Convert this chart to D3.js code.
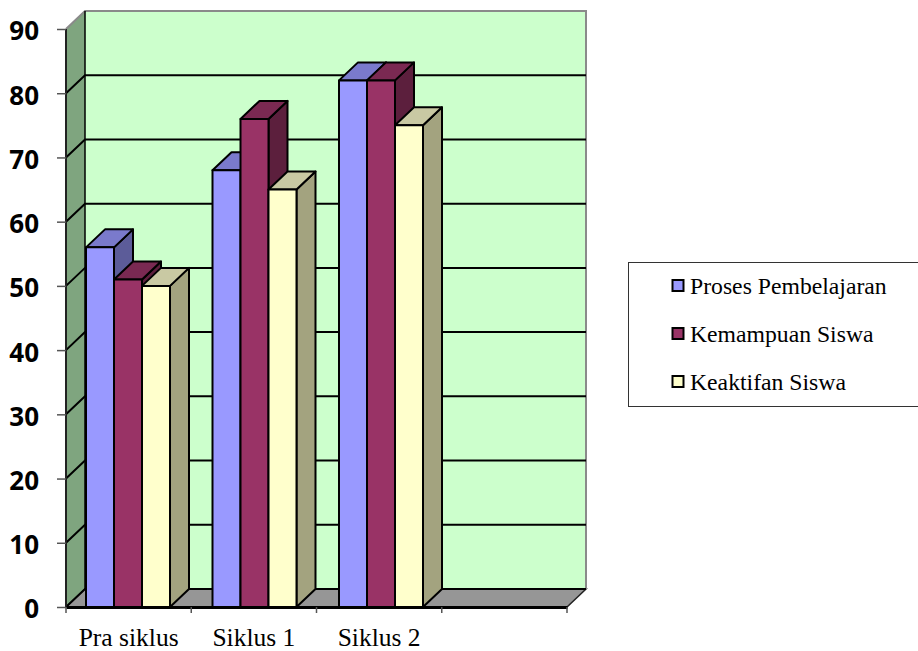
<!DOCTYPE html>
<html>
<head>
<meta charset="utf-8">
<script src="https://cdn.jsdelivr.net/npm/d3@7"></script>
<style>
	html, body { margin: 0; padding: 0; background: #fff; }
	svg { display: block; }
	.y_axis text { font-family: "Open Sans", sans-serif; font-weight: 700; font-size: 26px; fill: #000; }
	.x_axis text { font-family: "Liberation Serif", serif; font-size: 25.5px; fill: #000; }
	.legend text { font-family: "Liberation Serif", serif; font-size: 23.7px; fill: #000; }
</style>
</head>
<body>
<div class="c-svg"></div>
<script>
//DATA
//-------------------------------------------------------------------------

const categories = ["Pra siklus", "Siklus 1", "Siklus 2", ""];
const seriesNames = ["Proses Pembelajaran", "Kemampuan Siswa", "Keaktifan Siswa"];
const prosesPembelajaran = [56, 68, 82];
const kemampuanSiswa = [51, 76, 82];
const keaktifanSiswa = [50, 65, 75];
const yTicks = [0, 10, 20, 30, 40, 50, 60, 70, 80, 90];

const seriesValues = [prosesPembelajaran, kemampuanSiswa, keaktifanSiswa];

//face colors : front, top, side
const seriesColors = [
	["#9999ff", "#7a7acc", "#5c5c99"],
	["#993366", "#7a2952", "#5c1f3d"],
	["#ffffcc", "#c9c9a3", "#a3a37f"]
];


//INITIALISATION
//-------------------------------------------------------------------------

const opts = {
	width: 918,
	height: 651,
	plot: { left: 66, right: 567, top: 29, bottom: 607 },
	depth: { x: 19, y: 18 }
};

const svg = d3.select(".c-svg")
	.append("svg")
	.attr("width", opts.width)
	.attr("height", opts.height);

const x = d3.scaleBand()
	.domain(categories)
	.range([opts.plot.left, opts.plot.right]);

const y = d3.scaleLinear()
	.domain([0, 90])
	.range([opts.plot.bottom, opts.plot.top]);

//bar clusters drift a bit right of the axis bands in the picture
const clusterX = d3.scaleBand()
	.domain(categories)
	.range([86, 592]);

const barGroup = d3.scaleBand()
	.domain(d3.range(seriesNames.length))
	.range([0, 84]);

const dx = opts.depth.x;
const dy = opts.depth.y;
const line = (pts) => "M" + pts.join("L") + "Z";


//WALLS
//-------------------------------------------------------------------------

const walls = svg.append("g").attr("class", "walls");
const p = opts.plot;

//back wall
walls.append("path")
	.attr("d", line([[p.left + dx, p.top - dy], [p.right + dx, p.top - dy], [p.right + dx, p.bottom - dy], [p.left + dx, p.bottom - dy]]))
	.attr("fill", "#ccffcc");

//side wall
walls.append("path")
	.attr("d", line([[p.left, p.top], [p.left + dx, p.top - dy], [p.left + dx, p.bottom - dy], [p.left, p.bottom]]))
	.attr("fill", "#7fa57f");

//floor
walls.append("path")
	.attr("d", line([[p.left, p.bottom], [p.left + dx, p.bottom - dy], [p.right + dx, p.bottom - dy], [p.right, p.bottom]]))
	.attr("fill", "#969696")
	.attr("stroke", "#222")
	.attr("stroke-width", 1.5);

//grey outline of the walls
walls.append("path")
	.attr("d", `M${p.left},${p.top}L${p.left + dx},${p.top - dy}L${p.right + dx},${p.top - dy}L${p.right + dx},${p.bottom - dy}`)
	.attr("fill", "none")
	.attr("stroke", "#8a8a8a")
	.attr("stroke-width", 2);

//gridlines, back wall and side wall part
const grid = walls.append("g")
	.attr("fill", "none")
	.attr("stroke", "#000")
	.attr("stroke-width", 2);

grid.selectAll("path")
	.data(yTicks.slice(0, -1))
	.join("path")
	.attr("d", (d) => `M${p.left},${y(d)}L${p.left + dx},${y(d) - dy}L${p.right + dx},${y(d) - dy}`);

walls.append("path")
	.attr("d", `M${p.left + dx},${p.top - dy}V${p.bottom - dy}`)
	.attr("fill", "none")
	.attr("stroke", "#000")
	.attr("stroke-width", 1.5);

walls.append("path")
	.attr("d", `M${p.left},${p.top}V${p.bottom}`)
	.attr("fill", "none")
	.attr("stroke", "#222")
	.attr("stroke-width", 2);


//BARS
//-------------------------------------------------------------------------

const barW = barGroup.bandwidth();
const bars = svg.append("g").attr("class", "bars");

categories.slice(0, 3).forEach((cat, c) => {
	seriesValues.forEach((values, s) => {
		const x0 = clusterX(cat) + barGroup(s);
		const x1 = x0 + barW;
		const top = y(values[c]);
		const base = y(0);
		const g = bars.append("g")
			.attr("stroke", "#000")
			.attr("stroke-width", 2)
			.attr("stroke-linejoin", "round");

		g.append("path")
			.attr("d", line([[x1, top], [x1 + dx, top - dy], [x1 + dx, base - dy], [x1, base]]))
			.attr("fill", seriesColors[s][2]);
		g.append("path")
			.attr("d", line([[x0, top], [x0 + dx, top - dy], [x1 + dx, top - dy], [x1, top]]))
			.attr("fill", seriesColors[s][1]);
		g.append("path")
			.attr("d", line([[x0, top], [x1, top], [x1, base], [x0, base]]))
			.attr("fill", seriesColors[s][0]);
	});
});


//AXIS
//-------------------------------------------------------------------------

const yAxis = d3.axisLeft(y)
	.tickValues(yTicks)
	.tickSize(9)
	.tickPadding(18);

const gy = svg.append("g")
	.attr("class", "axis y_axis")
	.attr("transform", `translate(${p.left} 0)`)
	.call(yAxis);

gy.select(".domain").remove();
gy.selectAll("line").attr("stroke", "#555").attr("stroke-width", 1.5);
gy.selectAll("text").attr("dy", "0.42em");

const xAxis = d3.axisBottom(x)
	.tickSize(0)
	.tickPadding(21);

const gx = svg.append("g")
	.attr("class", "axis x_axis")
	.attr("transform", `translate(0 ${p.bottom})`)
	.call(xAxis);

gx.select(".domain")
	.attr("stroke", "#000")
	.attr("stroke-width", 3);

//tick marks are on the category borders
gx.selectAll(".border")
	.data(categories.concat("end"))
	.join("line")
	.attr("class", "border")
	.attr("x1", (d, i) => p.left + i * x.step())
	.attr("x2", (d, i) => p.left + i * x.step())
	.attr("y1", 0)
	.attr("y2", 6)
	.attr("stroke", "#555")
	.attr("stroke-width", 1.5);


//LEGEND
//-------------------------------------------------------------------------

const legend = svg.append("g").attr("class", "legend");

legend.append("rect")
	.attr("x", 628.5)
	.attr("y", 262.5)
	.attr("width", 300)
	.attr("height", 144)
	.attr("fill", "#fff")
	.attr("stroke", "#333")
	.attr("stroke-width", 1);

const rowY = d3.scalePoint()
	.domain(seriesNames)
	.range([286, 382]);

const rows = legend.selectAll(".row")
	.data(seriesNames)
	.join("g")
	.attr("class", "row")
	.attr("transform", (d) => `translate(0 ${rowY(d)})`);

rows.append("rect")
	.attr("x", 672.5)
	.attr("y", -6)
	.attr("width", 11)
	.attr("height", 11)
	.attr("fill", (d, i) => seriesColors[i][0])
	.attr("stroke", "#000")
	.attr("stroke-width", 2);

rows.append("text")
	.attr("x", 690)
	.attr("y", 8)
	.text((d) => d);
</script>
</body>
</html>
